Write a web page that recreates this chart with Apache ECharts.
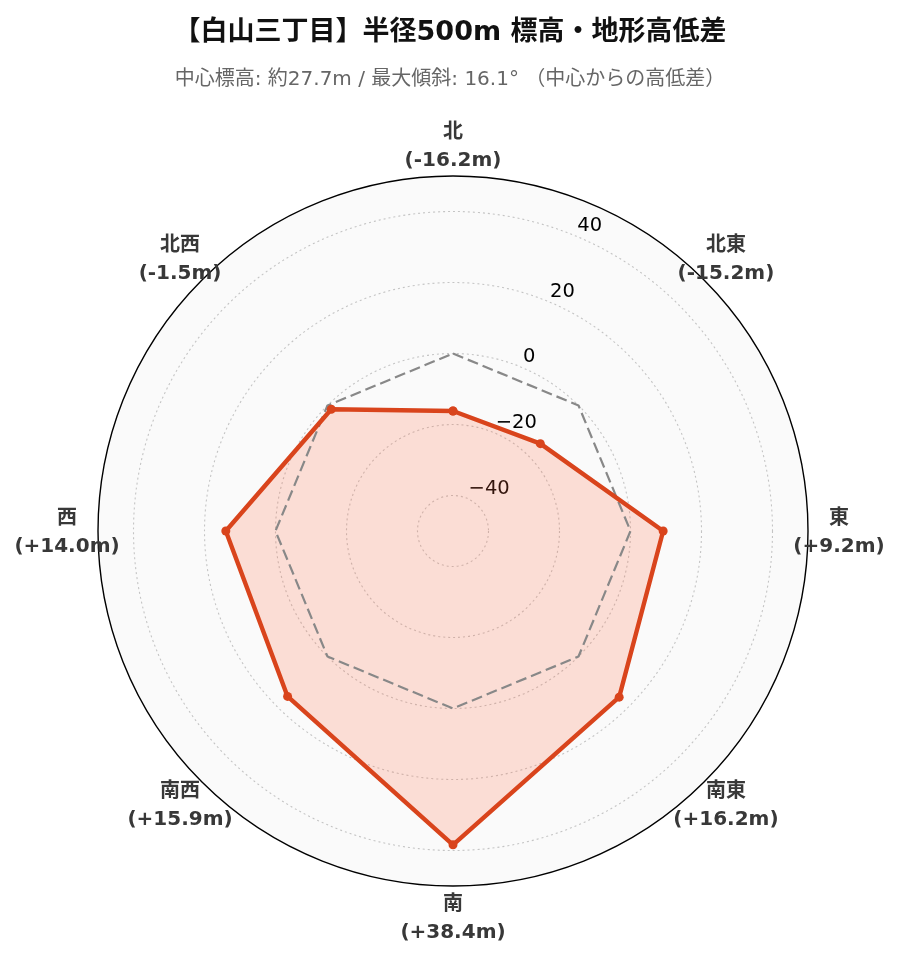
<!DOCTYPE html>
<html>
<head>
<meta charset="utf-8">
<script src="https://cdn.jsdelivr.net/npm/echarts@6/dist/echarts.min.js"></script>
<style>
  html, body { margin: 0; padding: 0; background: #ffffff; }
  #chart { width: 900px; height: 962px; }
</style>
</head>
<body>
<div id="chart"></div>
<script>
// ---- data ----
const directions = ['北', '北東', '東', '南東', '南', '南西', '西', '北西'];
const directionAngles = [0, 45, 90, 135, 180, 225, 270, 315];
const heightDiff = [-16.2, -15.2, 9.2, 16.2, 38.4, 15.9, 14.0, -1.5];
const referenceLevel = [0, 0, 0, 0, 0, 0, 0, 0];
const titleText = '【白山三丁目】半径500m 標高・地形高低差';
const subtitleText = '中心標高: 約27.7m / 最大傾斜: 16.1° （中心からの高低差）';

// ---- layout / style ----
const FONT = '"DejaVu Sans", "Noto Sans CJK JP", sans-serif';
const CENTER = [453, 531];
const R = 355;
const R_MIN = -50, R_MAX = 50;
const pxPerUnit = R / (R_MAX - R_MIN);
const LABEL_R_VALUE = 386 / pxPerUnit + R_MIN;  // angle label ring
const LINE_COLOR = '#d9441c';
const GRID_STYLE = { color: '#c4c4c4', width: 1.1, type: [2, 3] };

function closed(values) {
  const pts = values.map((v, i) => [v, directionAngles[i]]);
  pts.push([values[0], 360]);
  return pts;
}
function fmtDiff(v) {
  return '(' + (v >= 0 ? '+' : '-') + Math.abs(v).toFixed(1) + 'm)';
}

const chart = echarts.init(document.getElementById('chart'), null, { renderer: 'canvas' });

const option = {
  animation: false,
  backgroundColor: '#ffffff',
  title: {
    text: titleText,
    subtext: subtitleText,
    left: 'center',
    top: 17,
    padding: 0,
    itemGap: 19,
    textStyle: { fontFamily: FONT, fontSize: 27, fontWeight: 'bold', color: '#111111', lineHeight: 32 },
    subtextStyle: { fontFamily: FONT, fontSize: 20, color: '#666666', lineHeight: 24 }
  },
  polar: [
    { center: CENTER, radius: R },
    { center: CENTER, radius: [(-40 - R_MIN) * pxPerUnit, (40 - R_MIN) * pxPerUnit] }
  ],
  angleAxis: [
    {
      polarIndex: 0, type: 'value', min: 0, max: 360, interval: 45,
      startAngle: 90, clockwise: true, z: 0,
      axisLine: { show: true, lineStyle: { color: '#000000', width: 1.4 } },
      axisTick: { show: false },
      axisLabel: { show: false },
      splitLine: { show: true, lineStyle: GRID_STYLE },
      splitArea: { show: true, areaStyle: { color: ['#fafafa'] } }
    },
    {
      polarIndex: 1, type: 'value', min: 0, max: 360, interval: 45,
      startAngle: 67.5, clockwise: true, show: false
    }
  ],
  radiusAxis: [
    {
      polarIndex: 0, type: 'value', min: R_MIN, max: R_MAX,
      axisLine: { show: false }, axisTick: { show: false },
      axisLabel: { show: false }, splitLine: { show: false }, splitArea: { show: false }
    },
    {
      polarIndex: 1, type: 'value', min: -40, max: 40, interval: 20, z: 1,
      axisLine: { show: false }, axisTick: { show: false },
      axisLabel: {
        show: true, margin: 0, align: 'left', verticalAlign: 'bottom',
        padding: [0, 0, 0, 2],
        fontFamily: FONT, fontSize: 19.5, color: '#000000',
        formatter: v => (v < 0 ? '\u2212' + Math.abs(v) : String(v))
      },
      splitLine: { show: true, lineStyle: GRID_STYLE }
    }
  ],
  series: [
    {
      // filled area of the profile
      type: 'line', coordinateSystem: 'polar', polarIndex: 0, z: 2,
      data: closed(heightDiff),
      symbol: 'none', silent: true,
      lineStyle: { width: 0, opacity: 0 },
      areaStyle: { origin: 'start', color: 'rgba(255,105,65,0.2)', opacity: 1 }
    },
    {
      // zero (center elevation) reference
      type: 'line', coordinateSystem: 'polar', polarIndex: 0, z: 3,
      data: closed(referenceLevel),
      symbol: 'none', silent: true,
      lineStyle: { color: '#888888', width: 2.2, type: [11, 5] }
    },
    {
      type: 'line', coordinateSystem: 'polar', polarIndex: 0, z: 4,
      data: closed(heightDiff),
      symbol: 'circle', symbolSize: 9, silent: true,
      itemStyle: { color: LINE_COLOR },
      lineStyle: { color: LINE_COLOR, width: 4.4 }
    },
    {
      type: 'scatter', coordinateSystem: 'polar', polarIndex: 0, z: 5,
      clip: false, silent: true, symbolSize: 0,
      itemStyle: { color: 'rgba(0,0,0,0)', opacity: 1 },
      data: directionAngles.map(a => [LABEL_R_VALUE, a]),
      label: {
        show: true, position: 'inside', offset: [0, 2],
        fontFamily: FONT, fontSize: 20, fontWeight: 'bold', color: '#383838', lineHeight: 28,
        formatter: p => directions[p.dataIndex] + '\n' + fmtDiff(heightDiff[p.dataIndex])
      },
      emphasis: { disabled: true }
    }
  ]
};
chart.setOption(option);
</script>
</body>
</html>
